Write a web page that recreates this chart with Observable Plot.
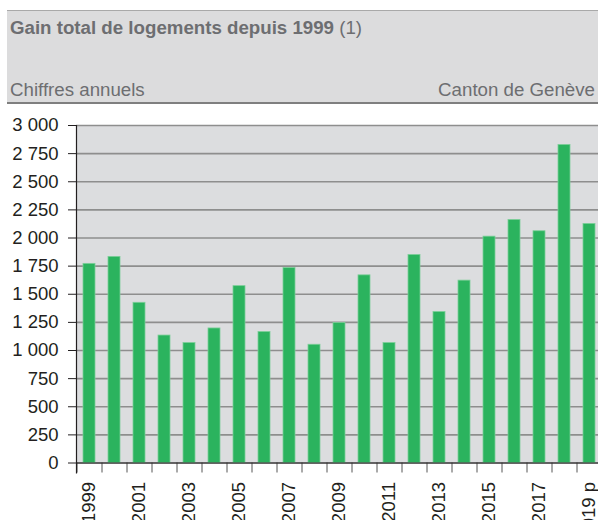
<!DOCTYPE html>
<html>
<head>
<meta charset="utf-8">
<script src="https://cdn.jsdelivr.net/npm/d3@7"></script>
<script src="https://cdn.jsdelivr.net/npm/@observablehq/plot@0.6"></script>
<style>
  html, body { margin: 0; padding: 0; background: #fff; }
  body { width: 598px; height: 520px; overflow: hidden; position: relative; font-family: "Liberation Sans", Arial, sans-serif; }
  #header { position: absolute; left: 7px; top: 10px; width: 591px; height: 91px; background: #dcdcdd;
            border-top: 1px solid #a9a9a9; border-bottom: 2px solid #7f7f7f; }
  #title { position: absolute; left: 3px; top: 6px; font-size: 18.7px; color: #6d6e71; white-space: nowrap; }
  #title b { font-weight: bold; }
  #sub { position: absolute; left: 3px; top: 68px; font-size: 18.7px; color: #6d6e71; white-space: nowrap; }
  #place { position: absolute; right: 3px; top: 68px; font-size: 18.7px; color: #6d6e71; white-space: nowrap; }
  #chart { position: absolute; left: 0; top: 105px; }
</style>
</head>
<body>
<div id="header">
  <div id="title"><b>Gain total de logements depuis 1999</b> (1)</div>
  <div id="sub">Chiffres annuels</div>
  <div id="place">Canton de Genève</div>
</div>
<div id="chart"></div>
<script>
const years = ["1999","2000","2001","2002","2003","2004","2005","2006","2007","2008","2009","2010","2011","2012","2013","2014","2015","2016","2017","2018","2019"];
const gains = [1770, 1832, 1424, 1133, 1066, 1196, 1572, 1164, 1733, 1051, 1244, 1668, 1066, 1849, 1342, 1621, 2012, 2160, 2060, 2827, 2125];
const yearLabels = {"1999":"1999","2001":"2001","2003":"2003","2005":"2005","2007":"2007","2009":"2009","2011":"2011","2013":"2013","2015":"2015","2017":"2017","2019":"2019 p"};
const yTicks = [0, 250, 500, 750, 1000, 1250, 1500, 1750, 2000, 2250, 2500, 2750, 3000];

const data = years.map((y, i) => ({year: y, value: gains[i]}));
const fmt = d => d3.format(",")(d).replace(/,/g, " ");

const chart = Plot.plot({
  width: 598,
  height: 415,
  marginLeft: 76,
  marginRight: 0,
  marginTop: 20,
  marginBottom: 57.5,
  style: {fontFamily: "'Liberation Sans', Arial, sans-serif", fontSize: "18.5px", color: "#231f20", overflow: "visible"},
  x: {type: "band", domain: years, range: [76, 601], paddingInner: 0.54, paddingOuter: 0.27, label: null},
  y: {domain: [0, 3000], label: null},
  marks: [
    Plot.frame({fill: "#dcdddf", stroke: null}),
    Plot.gridY(yTicks, {stroke: "#8e8e8e", strokeOpacity: 1, strokeWidth: 1.6}),
    Plot.barY(data, {x: "year", y: "value", fill: "#2bb35e", stroke: "#7ccf98", strokeWidth: 0.8}),
    Plot.axisY(yTicks, {tickSize: 8, tickPadding: 10, tickFormat: fmt, stroke: "#231f20", fill: "#231f20", fontSize: 18.5, label: null}),
    Plot.axisX({tickSize: 10, tickFormat: () => "", dx: -12.5, stroke: "#555", label: null}),
    Plot.axisX(Object.keys(yearLabels), {tickSize: 0, tickRotate: -90, tickPadding: 19, textAnchor: "end", tickFormat: d => yearLabels[d], fill: "#231f20", fontSize: 18.5, label: null}),
    Plot.ruleY([0], {stroke: "#231f20", strokeWidth: 1.2}),
    Plot.frame({anchor: "left", stroke: "#231f20", strokeWidth: 1.2, insetBottom: -10})
  ]
});
document.getElementById("chart").appendChild(chart);
</script>
</body>
</html>
